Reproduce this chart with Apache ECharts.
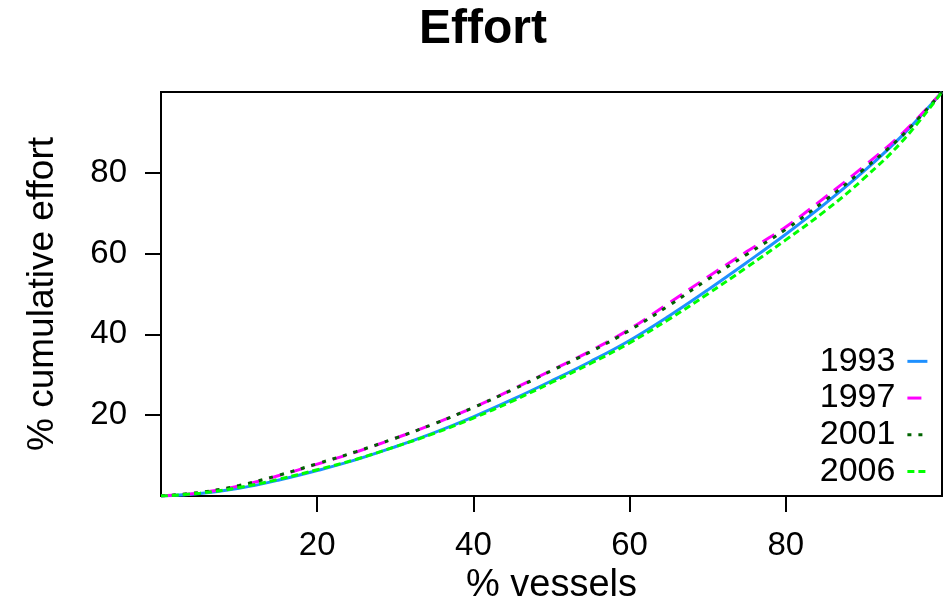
<!DOCTYPE html>
<html>
<head>
<meta charset="utf-8">
<script src="https://cdn.jsdelivr.net/npm/echarts@6/dist/echarts.min.js"></script>
<style>html,body{margin:0;padding:0;background:#fff}#c{width:948px;height:600px}</style>
</head>
<body>
<div id="c"></div>
<script>
const pctVessels = [0,5,10,15,20,25,30,35,40,45,50,55,60,65,70,75,80,85,90,95,100];
const years = ['1993','1997','2001','2006'];
const y1993 = [0,0.6,1.9,3.9,6.3,9.0,12.2,15.7,19.6,23.9,28.5,33.3,38.5,44.5,51.0,57.8,64.8,72.3,80.4,89.4,100];
const y1997 = [0,0.8,2.5,5.0,7.9,10.9,14.3,17.9,21.9,26.4,31.1,35.9,41.3,47.7,54.2,60.5,66.6,73.9,81.6,89.9,100];
const y2001 = [0,0.9,2.6,5.1,8.0,11.0,14.3,17.9,21.9,26.3,31.0,35.7,41.0,47.1,53.6,59.8,66.0,73.1,80.9,89.4,100];
const y2006 = [0,0.7,2.1,4.1,6.5,9.1,12.2,15.5,19.3,23.5,28.1,32.8,37.9,43.7,50.0,56.6,63.4,70.5,78.6,88.0,100];
const tickVals = [20,40,60,80];

const font = 'Liberation Sans, Arial, sans-serif';
const colors = ['#1E90FF','#FF00FF','#006400','#00FF00'];
const dashes = ['solid',[14,8],[4,7],[7,4]];
const allY = [y1993,y1997,y2001,y2006];

const series = years.map((yr,i)=>({
  name: yr,
  type: 'line',
  data: pctVessels.map((x,j)=>[x, allY[i][j]]),
  symbol: 'none',
  smooth: 0.4,
  lineStyle: {color: colors[i], width: 3, type: dashes[i]},
  itemStyle: {color: colors[i]},
  z: 2 + i
}));

const chart = echarts.init(document.getElementById('c'), null, {renderer:'canvas'});
chart.setOption({
  animation: false,
  backgroundColor: '#fff',
  title: {
    text: 'Effort', left: 478, top: 1, textAlign: 'center',
    textStyle: {fontFamily: font, fontSize: 48, fontWeight: 'bold', color: '#000'}
  },
  legend: {
    orient: 'vertical', right: 12, top: 338, align: 'right',
    itemWidth: 20, itemHeight: 34, itemGap: 0,
    itemStyle: {opacity: 0},
    lineStyle: {width: 3},
    textStyle: {fontFamily: font, fontSize: 34, color: '#000', lineHeight: 36.7, padding: [0, 7, 0, 0]},
    data: years
  },
  grid: {
    left: 161, top: 92, right: 6, bottom: 104,
    outerBoundsMode: 'none', containLabel: false,
    show: true, borderColor: '#000', borderWidth: 2, backgroundColor: 'transparent'
  },
  xAxis: {
    type: 'value', min: 0, max: 100, interval: 20,
    name: '% vessels', nameLocation: 'middle', nameGap: 55,
    nameTextStyle: {fontFamily: font, fontSize: 38, color: '#000'},
    axisLine: {show: false},
    axisTick: {show: true, length: 16, inside: false, customValues: tickVals, lineStyle: {color: '#000', width: 2}},
    axisLabel: {customValues: tickVals, margin: 33, fontFamily: font, fontSize: 33, color: '#000'},
    splitLine: {show: false}
  },
  yAxis: {
    type: 'value', min: 0, max: 100, interval: 20,
    name: '% cumulative effort', nameLocation: 'middle', nameGap: 100, nameRotate: 90,
    nameTextStyle: {fontFamily: font, fontSize: 37, color: '#000'},
    axisLine: {show: false},
    axisTick: {show: true, length: 16, inside: false, customValues: tickVals, lineStyle: {color: '#000', width: 2}},
    axisLabel: {customValues: tickVals, margin: 34, fontFamily: font, fontSize: 33, color: '#000'},
    splitLine: {show: false}
  },
  series: series
});
</script>
</body>
</html>
